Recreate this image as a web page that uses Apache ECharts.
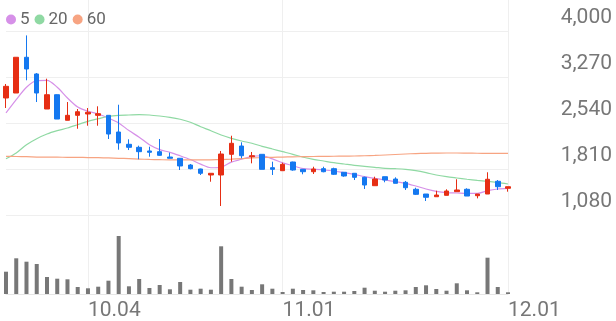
<!DOCTYPE html>
<html><head><meta charset="utf-8">
<script src="https://cdn.jsdelivr.net/npm/echarts@6/dist/echarts.min.js"></script>
<style>html,body{margin:0;padding:0;background:#fff}#c{width:616px;height:321px}</style>
</head><body><div id="c"></div>
<script>
const dates = ['09.18','09.19','09.20','09.21','09.22','09.25','09.26','09.27',
  '10.04','10.05','10.06','10.10','10.11','10.12','10.13','10.16','10.17','10.18','10.19','10.20','10.23','10.24','10.25','10.26','10.27','10.30','10.31',
  '11.01','11.02','11.03','11.06','11.07','11.08','11.09','11.10','11.13','11.14','11.15','11.16','11.17','11.20','11.21','11.22','11.23','11.24','11.27','11.28','11.29','11.30',
  '12.01'];
const openP  = [2937,3016,3583,3318,2762,2989,2583,2662,2683,2662,2662,2397,2202,2154,2096,2085,2000,1980,1873,1810,1715,1715,2043,2175,2005,2043,1831,1783,1921,1805,1767,1815,1815,1758,1742,1678,1545,1688,1651,1599,1488,1413,1370,1392,1450,1488,1386,1413,1615,1504];
const closeP = [3122,3583,3397,3016,2989,2603,2662,2719,2710,2688,2365,2223,2154,2085,2075,2027,1980,1858,1815,1742,1742,2048,2218,2021,2021,1805,1805,1884,1794,1767,1810,1767,1726,1699,1678,1556,1651,1635,1583,1513,1408,1361,1397,1461,1477,1381,1413,1647,1529,1529];
const lowP   = [2778,3016,3218,2873,2762,2603,2583,2449,2497,2497,2286,2116,2111,1964,2005,2021,1980,1794,1805,1715,1608,1223,1926,1980,1900,1805,1715,1783,1783,1726,1731,1758,1715,1688,1635,1493,1545,1599,1583,1477,1397,1302,1370,1392,1450,1381,1344,1413,1477,1450];
const highP  = [3159,3583,3930,3333,3243,2995,2873,2762,2778,2805,2662,2830,2281,2180,2164,2286,2069,1980,1889,1815,1742,2096,2338,2234,2080,2043,1926,1910,1926,1805,1846,1846,1831,1758,1742,1688,1688,1688,1678,1620,1513,1413,1466,1488,1647,1504,1413,1758,1635,1529];
const ma5  = [2699,2910,3107,3212,3218,3107,2937,2794,2726,2683,2619,2540,2420,2315,2195,2118,2075,2020,1960,1887,1830,1838,1920,1965,2010,2020,1970,1908,1862,1815,1805,1794,1778,1752,1726,1688,1662,1635,1609,1583,1540,1493,1456,1434,1429,1424,1424,1466,1493,1504];
const ma20 = [1973,2064,2196,2291,2365,2418,2461,2513,2567,2608,2646,2662,2667,2672,2667,2651,2630,2599,2551,2481,2418,2350,2297,2254,2218,2170,2127,2085,2043,1996,1964,1937,1910,1889,1868,1852,1837,1821,1815,1805,1783,1752,1715,1688,1667,1647,1630,1615,1599,1572];
const ma60 = [2011,2008,2005,2000,1998,1997,1996,1994,1992,1990,1985,1980,1975,1968,1962,1958,1955,1955,1955,1955,1956,1960,1966,1975,1985,1990,1996,2000,2003,2006,2008,2010,2012,2014,2016,2020,2025,2032,2040,2048,2055,2059,2062,2064,2064,2062,2060,2058,2057,2057];
const volume = [223,357,323,300,170,153,147,70,57,73,133,580,77,150,60,90,47,120,43,53,43,477,150,73,40,97,53,20,53,40,37,20,23,23,30,63,33,23,33,37,70,87,50,33,107,37,17,363,70,17];
const tickLabels = ['10.04','11.01','12.01'];
const maNames = ['5','20','60'];

const UP = '#e62e14', DOWN = '#1478f0';
const MA_COLORS = ['#d690e8','#8fd9a3','#f7a482'];
const GRID = '#efefef';
const showTick = (i) => tickLabels.indexOf(dates[i]) >= 0;

const chart = echarts.init(document.getElementById('c'), null, {renderer:'canvas'});
chart.setOption({
  animation:false,
  backgroundColor:'#fff',
  textStyle:{fontFamily:'Roboto'},
  legend:{
    left:1, top:6, icon:'circle', itemWidth:10, itemHeight:10, itemGap:5,
    selectedMode:false, data:maNames,
    textStyle:{fontSize:17, color:'#666', fontFamily:'Roboto', padding:[0,0,0,-1]}
  },
  grid:[
    {left:6, right:108, top:0, height:215},
    {left:6, right:108, top:215, height:79}
  ],
  xAxis:[
    {type:'category', gridIndex:0, data:dates, boundaryGap:false,
     axisLine:{show:false}, axisTick:{show:false}, axisLabel:{show:false},
     splitLine:{show:true, interval:(i)=>showTick(i), lineStyle:{color:GRID, width:1}}},
    {type:'category', gridIndex:1, data:dates, boundaryGap:false,
     axisLine:{show:true, lineStyle:{color:'#e6e6e6', width:1}}, axisTick:{show:false},
     axisLabel:{show:true, interval:(i)=>showTick(i), align:'left', color:'#777', fontSize:21,
       fontFamily:'Roboto', margin:6, lineHeight:21},
     splitLine:{show:true, interval:(i)=>showTick(i), lineStyle:{color:GRID, width:1}}}
  ],
  yAxis:[
    {type:'value', gridIndex:0, position:'right', min:1080, max:4492, interval:730,
     axisLine:{show:false}, axisTick:{show:false},
     splitLine:{show:true, showMaxLine:false, lineStyle:{color:GRID, width:1}},
     axisLabel:{color:'#777', fontSize:21, fontFamily:'Roboto', align:'right', margin:104,
       verticalAlign:'bottom', lineHeight:21, padding:[0,0,3,0], showMaxLabel:false,
       formatter:(v)=>v.toLocaleString('en-US')}},
    {type:'value', gridIndex:1, min:0, max:790, show:false, splitLine:{show:false}}
  ],
  series:[
    {name:'5', type:'line', data:ma5, symbol:'none', smooth:0.3, z:2,
     lineStyle:{color:MA_COLORS[0], width:1.2}, itemStyle:{color:MA_COLORS[0]}},
    {name:'20', type:'line', data:ma20, symbol:'none', smooth:0.3, z:2,
     lineStyle:{color:MA_COLORS[1], width:1.2}, itemStyle:{color:MA_COLORS[1]}},
    {name:'60', type:'line', data:ma60, symbol:'none', smooth:0.3, z:2,
     lineStyle:{color:MA_COLORS[2], width:1.2}, itemStyle:{color:MA_COLORS[2]}},
    {name:'price', type:'candlestick', z:3, clip:false, barWidth:5,
     data:dates.map((d,i)=>[openP[i], closeP[i], lowP[i], highP[i]]),
     itemStyle:{color:UP, color0:DOWN, borderColor:UP, borderColor0:DOWN, borderWidth:1}},
    {name:'volume', type:'bar', xAxisIndex:1, yAxisIndex:1, data:volume, barWidth:4, clip:false,
     itemStyle:{color:'#777'}}
  ]
});
</script>
</body></html>
